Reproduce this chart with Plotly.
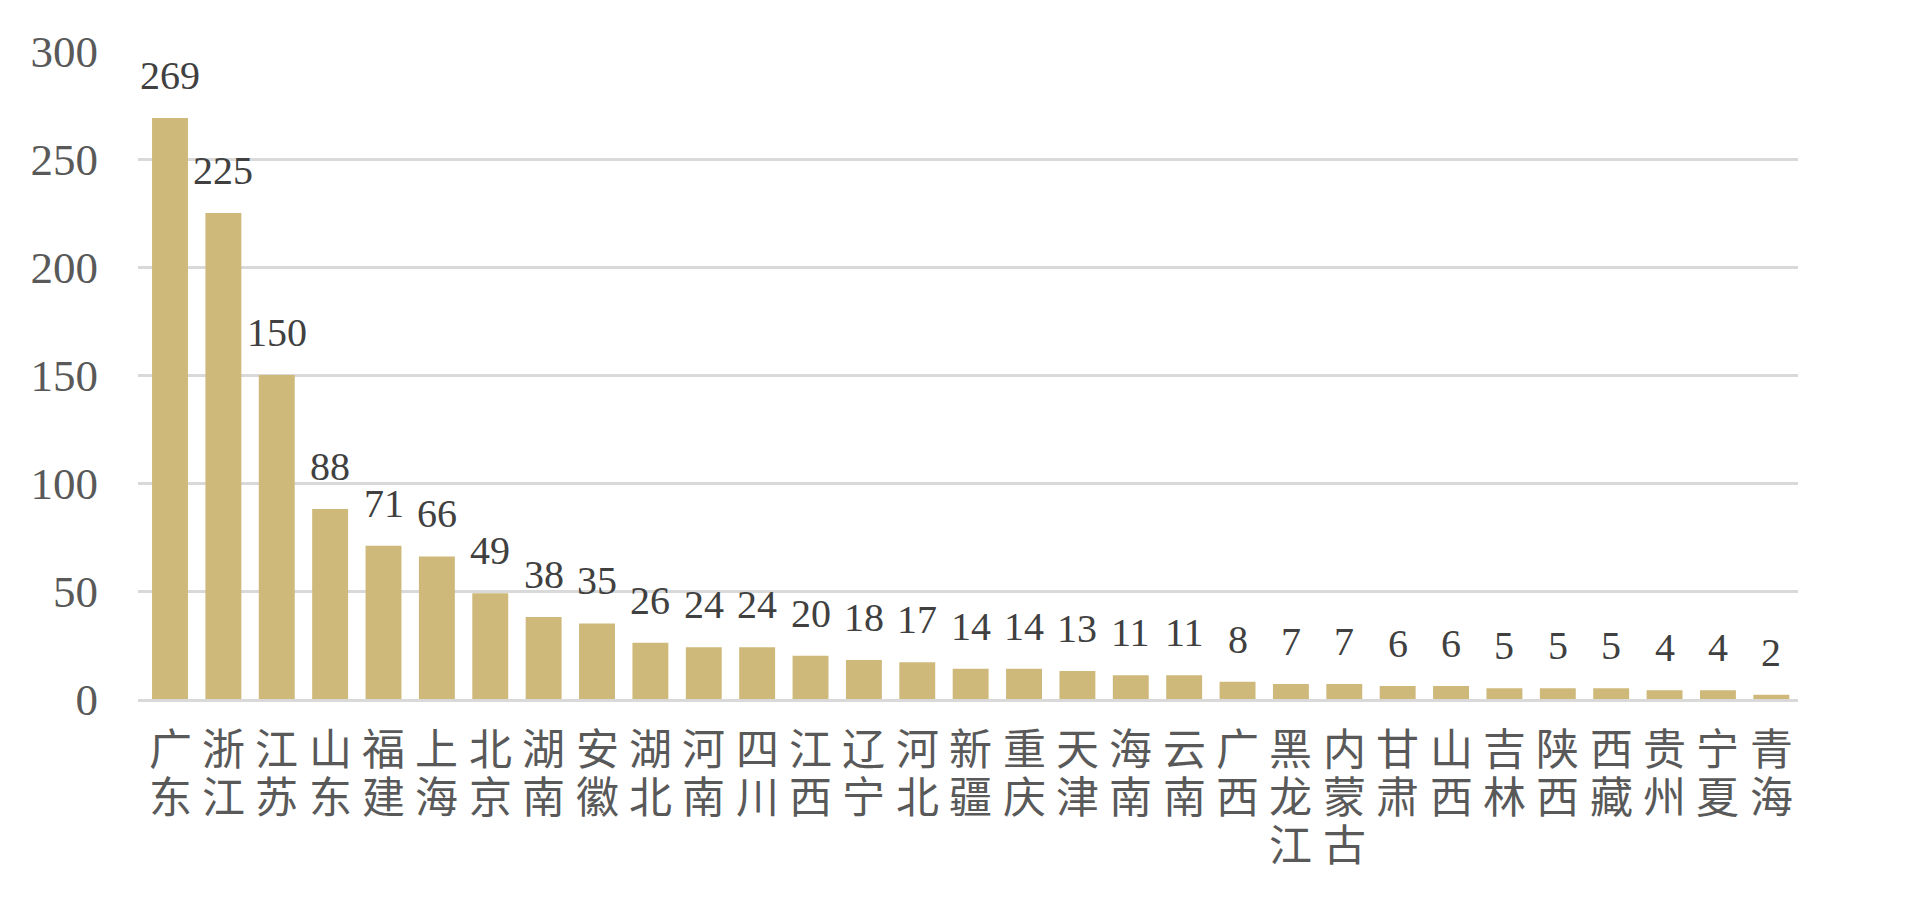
import plotly.graph_objects as go

provinces = ["广东", "浙江", "江苏", "山东", "福建", "上海", "北京", "湖南", "安徽", "湖北",
             "河南", "四川", "江西", "辽宁", "河北", "新疆", "重庆", "天津", "海南", "云南",
             "广西", "黑龙江", "内蒙古", "甘肃", "山西", "吉林", "陕西", "西藏", "贵州", "宁夏", "青海"]
counts = [269, 225, 150, 88, 71, 66, 49, 38, 35, 26,
          24, 24, 20, 18, 17, 14, 14, 13, 11, 11,
          8, 7, 7, 6, 6, 5, 5, 5, 4, 4, 2]
y_ticks = [0, 50, 100, 150, 200, 250, 300]

fig = go.Figure()
fig.add_trace(go.Bar(
    x=provinces, y=counts,
    marker=dict(color="#CEB97B", line=dict(width=0)),
    hoverinfo="skip",
))

# value labels above bars
for p, v in zip(provinces, counts):
    fig.add_annotation(
        x=p, y=v, text=str(v), showarrow=False,
        xref="x", yref="y", yanchor="bottom", yshift=18,
        font=dict(family="Liberation Serif", size=40, color="#404040"),
    )

# category labels, written vertically one character per row
row_gap = 26
row_pitch = 48
for p in provinces:
    for i, ch in enumerate(p):
        fig.add_annotation(
            x=p, y=0, text=ch, showarrow=False,
            xref="x", yref="paper", yanchor="top", xanchor="center",
            yshift=-(row_gap + i * row_pitch),
            font=dict(family="Liberation Serif, Noto Sans CJK SC", size=43, color="#595959"),
        )

# page body has an 8px default margin, so the figure is sized to fit inside it
fig.update_layout(
    width=1895, height=882,
    margin=dict(l=130, r=105, t=43, b=191),
    paper_bgcolor="white", plot_bgcolor="white",
    bargap=0.327,
    showlegend=False,
)
fig.update_xaxes(
    categoryorder="array", categoryarray=provinces,
    showticklabels=False, automargin=False,
    showline=True, linecolor="#D9D9D9", linewidth=2.5,
    ticks="", showgrid=False,
)
fig.update_yaxes(
    range=[0, 300], tickvals=y_ticks, automargin=False,
    tickfont=dict(family="Liberation Serif", size=45, color="#595959"),
    showgrid=True, gridcolor="#D9D9D9", gridwidth=2.5,
    zeroline=False, ticks="", ticklabelstandoff=39,
    showline=False,
)

fig.write_html("out.html")
